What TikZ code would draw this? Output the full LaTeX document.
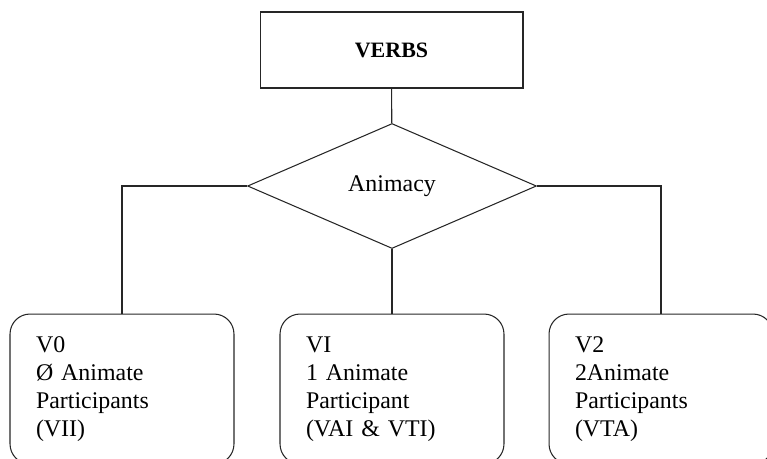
\documentclass[tikz,border=0pt]{standalone}
\usepackage{fontspec}
\setmainfont{Liberation Serif}
\usepackage{tikz}
\usetikzlibrary{shapes.geometric}
\tikzset{
box/.style = {rectangle, draw=black!85, minimum width = #1},
box/.default = 5.26cm, % width of the top box
}
\tikzset{
choice/.style = {diamond, draw=black!85, inner sep=0pt}
}
\tikzset{
leaf/.style = {rectangle, rounded corners=0.4cm, draw=black!85, text width=3.44cm,
               align=left, inner xsep=0.52cm, minimum height=3cm}
}

\begin{document}
\begin{tikzpicture}[x=0.02cm, y=-0.02cm, line width=0.6pt,
    font=\fontsize{13.6}{15.9}\selectfont]

    \useasboundingbox (0,0) rectangle (767,458);
    \clip (0,0) rectangle (767,458);

    \node[box, minimum height=1.52cm] (verbs) at (391.5,50) {\fontsize{12.5}{15}\selectfont\bfseries VERBS};
    \node[choice, minimum width=5.78cm, minimum height=2.5cm] (animacy) at (392,186) {Animacy};

    \node[leaf] (vzero) at (122,389) {V0\\ Ø Animate\\ Participants\\ (VII)};
    \node[leaf] (vone) at (392,389) {VI\\ 1 Animate\\ Participant\\ (VAI \& VTI)};
    \node[leaf] (vtwo) at (661,389) {V2\\ 2Animate\\ Participants\\ (VTA)};

\draw[draw=black!85] (verbs) -- (animacy);
\draw[draw=black!85] (animacy.west) -| (vzero.north);
\draw[draw=black!85] (animacy.south) -- (vone.north);
\draw[draw=black!85] (animacy.east) -| (vtwo.north);
\end{tikzpicture}
\end{document}
